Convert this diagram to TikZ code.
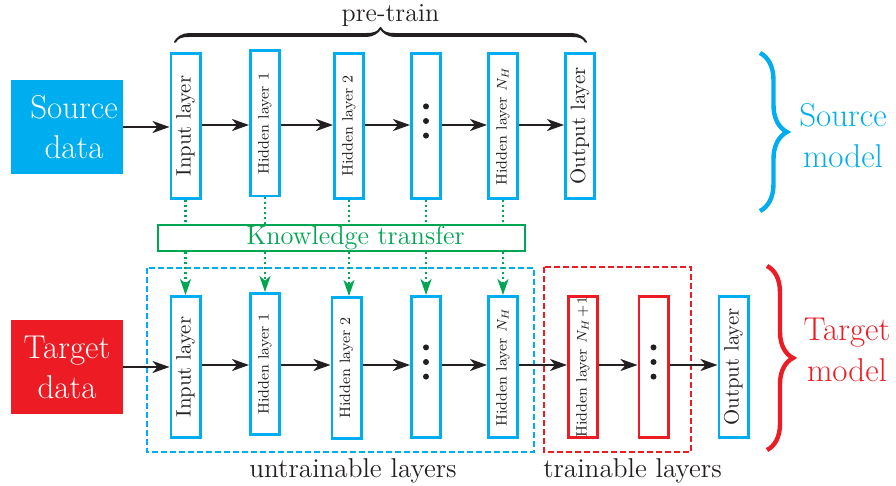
\documentclass[tikz,border=0pt]{standalone}
\usepackage{fontspec}
\usepackage{graphicx}
\usetikzlibrary{arrows.meta,decorations.pathreplacing,calligraphy,calc}
\definecolor{cyanC}{RGB}{0,174,239}
\definecolor{redC}{RGB}{237,28,36}
\definecolor{greenC}{RGB}{0,166,81}
\definecolor{txt}{RGB}{35,31,32}
\newcommand\lyrfont{\fontsize{10.4}{12}\selectfont}
\newcommand\hidfont{\fontsize{7.5}{9}\selectfont}
\begin{document}
\begin{tikzpicture}[x=0.5pt,y=-0.5pt,
  layer/.style={draw=cyanC, line width=1.4pt, minimum width=14.6pt, minimum height=72.6pt, inner sep=0pt, text=txt},
  layerb/.style={layer, minimum height=70.6pt},
  redlayer/.style={layerb, draw=redC},
  datab/.style={minimum width=56pt, minimum height=47pt, inner sep=0pt, text=white, align=center, font=\fontsize{16.5}{20}\selectfont},
  arr/.style={-{Stealth[length=8.5pt,width=6pt,inset=2.5pt]}, line width=1.2pt, draw=txt},
  ktline/.style={draw=greenC, line width=1.2pt, dash pattern=on 1pt off 1.5pt},
  ktarr/.style={ktline, -{Stealth[length=8pt,width=5.5pt,inset=2.3pt]}},
  lbl/.style={text=txt, anchor=base, font=\fontsize{13.6}{15}\selectfont},
  dotc/.style={fill=txt}
]
\useasboundingbox (0,0) rectangle (896,486);

% dashed groups
\draw[cyanC, line width=1.2pt, dash pattern=on 3pt off 1.5pt] (147,268) rectangle (534,452);
\draw[redC, line width=1.2pt, dash pattern=on 3pt off 1.5pt] (544,267) rectangle (691,452);

% source row
\node[datab, fill=cyanC] (src) at (67,127) {\hspace*{7pt}Source\\\hspace*{7pt}data};
\node[layer] (in1) at (185.5,126) {\rotatebox{90}{\lyrfont Input layer}};
\node[layer] (h11) at (265,123.5) {\rotatebox{90}{\hidfont Hidden layer 1}};
\node[layer] (h21) at (349,126) {\rotatebox{90}{\hidfont Hidden layer 2}};
\node[layer] (d1) at (426,126) {};
\node[layer] (hn1) at (503,126) {\rotatebox{90}{\hidfont Hidden layer $N_H$}};
\node[layer] (out1) at (580,126) {\rotatebox{90}{\lyrfont Output layer}};

% target row
\node[datab, fill=redC] (tgt) at (67,367) {Target\\data};
\node[layerb] (in2) at (185.5,367) {\rotatebox{90}{\lyrfont Input layer}};
\node[layerb] (h12) at (265,364) {\rotatebox{90}{\hidfont Hidden layer 1}};
\node[layerb] (h22) at (346.5,368) {\rotatebox{90}{\hidfont Hidden layer 2}};
\node[layerb] (d2) at (426,367) {};
\node[layerb] (hn2) at (503,367) {\rotatebox{90}{\hidfont Hidden layer $N_H$}};
\node[redlayer] (hp2) at (583,367) {\rotatebox{90}{\hidfont Hidden layer $N_H\!+\!1$}};
\node[redlayer] (d3) at (653.5,367) {};
\node[layerb] (out2) at (733.5,367) {\rotatebox{90}{\lyrfont Output layer}};

% dots
\foreach \n in {d1,d2,d3}{
  \fill[dotc] ([yshift=2.5pt]\n.center) circle[radius=1.5pt];
  \fill[dotc] ([yshift=9.8pt]\n.center) circle[radius=1.5pt];
  \fill[dotc] ([yshift=-4.8pt]\n.center) circle[radius=1.5pt];
}

% knowledge transfer
\node[draw=greenC, line width=1pt, minimum width=183.5pt, minimum height=13pt, inner sep=0pt, text=greenC, font=\fontsize{13.2}{15}\selectfont] (kt) at (341.5,238) {\hspace*{14pt}Knowledge transfer};
\foreach \n in {in1,h11,h21,d1,hn1}
  \draw[ktline] (\n.south) -- (\n.south |- kt.north);
\foreach \a/\b in {in1/in2,h11/h12,h21/h22,d1/d2,hn1/hn2}
  \draw[ktarr] (\a.south |- kt.south) -- (\a.south |- \b.north);

% arrows source row
\draw[arr] (src.east) -- (src.east -| in1.west);
\foreach \a/\b in {in1/h11,h11/h21,h21/d1,d1/hn1,hn1/out1}
  \draw[arr] ([yshift=1pt]\a.east |- src.east) -- ([yshift=1pt]\b.west |- src.east);

% arrows target row
\draw[arr] (tgt.east) -- (tgt.east -| in2.west);
\foreach \a/\b in {in2/h12,h12/h22,h22/d2,d2/hn2,hn2/hp2,hp2/d3,d3/out2}
  \draw[arr] ([yshift=1pt]\a.east |- tgt.east) -- ([yshift=1pt]\b.west |- tgt.east);

% braces
\draw[decorate, decoration={calligraphic brace, amplitude=7pt}, line width=2pt, pen colour={txt}] (175,42) -- (586,42);
\node[text=txt, anchor=base, font=\fontsize{13}{15}\selectfont] (pt) at (390.5,22) {pre-train};
\draw[decorate, decoration={brace, amplitude=13.5pt}, line width=2.2pt, cyanC] (760,53) -- (760,211);
\draw[decorate, decoration={brace, amplitude=13pt}, line width=2.2pt, redC] (767,266) -- (767,450);
\node[text=cyanC, align=center, font=\fontsize{16.5}{20.5}\selectfont] (sm) at (843,136) {Source\\model};
\node[text=redC, align=center, font=\fontsize{16.5}{20.5}\selectfont] (tm) at (847,350) {Target\\model};

% group labels
\node[lbl] (ul) at (353,478) {untrainable layers};
\node[lbl] (tl) at (632.5,478) {trainable layers};
\end{tikzpicture}
\end{document}
